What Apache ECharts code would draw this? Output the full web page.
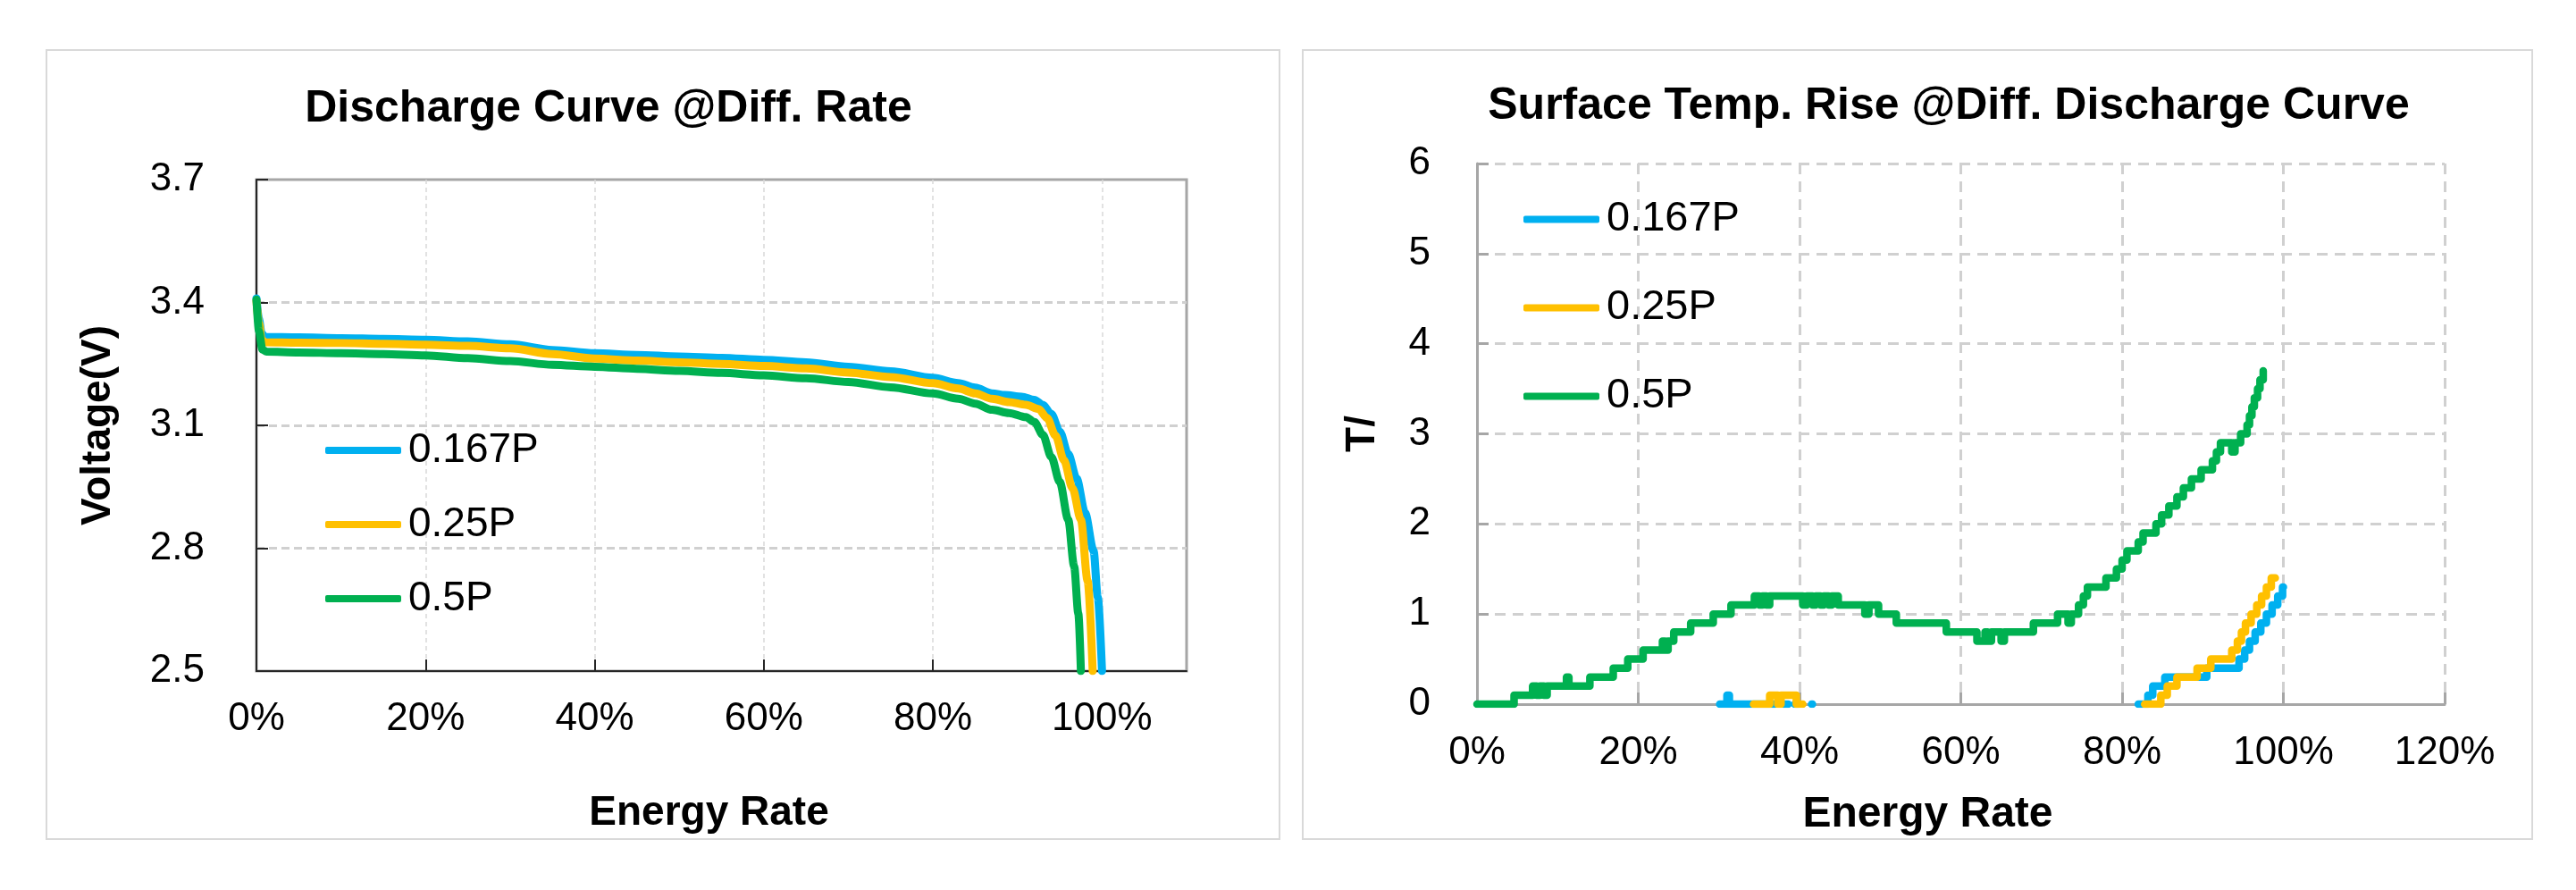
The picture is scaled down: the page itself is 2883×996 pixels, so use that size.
<!DOCTYPE html>
<html>
<head>
<meta charset="utf-8">
<script src="https://cdn.jsdelivr.net/npm/echarts@6/dist/echarts.min.js"></script>
<style>
  html, body { margin: 0; padding: 0; background: #ffffff; }
  #main { width: 2883px; height: 996px; }
</style>
</head>
<body>
<div id="main"></div>
<script>
// ---------- Data ----------
const seriesNames = ['0.167P', '0.25P', '0.5P'];
const seriesColors = ['#00B0F0', '#FFC000', '#00B050'];

// Discharge curves: energy rate (%) vs voltage (V)
const dis167X = [0, 0.3, 0.6, 1.0, 5, 10, 15, 20, 25, 30, 35, 40, 45, 50, 55, 60, 65, 70, 75, 80, 83, 85, 87, 88.5, 90.5, 92, 93, 94, 95, 96, 97, 98, 99, 99.5, 100];
const dis167V = [3.41, 3.36, 3.325, 3.316, 3.315, 3.313, 3.311, 3.309, 3.305, 3.298, 3.284, 3.276, 3.272, 3.268, 3.265, 3.26, 3.254, 3.243, 3.232, 3.216, 3.203, 3.192, 3.178, 3.174, 3.17, 3.162, 3.15, 3.128, 3.085, 3.03, 2.97, 2.886, 2.794, 2.68, 2.5];

const dis25X = [0, 0.3, 0.6, 1.0, 5, 10, 15, 20, 25, 30, 35, 40, 45, 50, 55, 60, 65, 70, 75, 80, 83, 85, 87, 89, 91, 92.5, 93.5, 94.5, 95.5, 96.5, 97.5, 98.3, 98.9];
const dis25V = [3.404, 3.35, 3.31, 3.303, 3.302, 3.301, 3.299, 3.297, 3.294, 3.288, 3.274, 3.263, 3.258, 3.254, 3.25, 3.245, 3.239, 3.229, 3.218, 3.203, 3.19, 3.178, 3.165, 3.157, 3.15, 3.14, 3.118, 3.075, 3.015, 2.947, 2.87, 2.72, 2.5];

const dis5X = [0, 0.3, 0.7, 1.2, 5, 10, 15, 20, 25, 30, 35, 40, 45, 50, 55, 60, 65, 70, 75, 80, 83, 85, 87, 89, 91, 92, 93, 94, 95, 96, 96.7, 97.2, 97.5];
const dis5V = [3.407, 3.33, 3.285, 3.28, 3.278, 3.276, 3.274, 3.271, 3.264, 3.257, 3.248, 3.243, 3.238, 3.233, 3.228, 3.222, 3.215, 3.206, 3.193, 3.178, 3.165, 3.153, 3.138, 3.13, 3.12, 3.108, 3.077, 3.023, 2.962, 2.87, 2.756, 2.64, 2.5];

// Surface temperature rise: energy rate (%) vs temp rise (null = gap)
const tmp167X = [30.1, 31.0, 31.3, 37.0, null, 38.0, 38.6, null, 39.4, 39.8, null, 41.5, 41.6, null,
  82.0, 83.2, 83.8, 85.3, 90.5, 94.5, 95.2, 95.8, 96.5, 97.2, 97.9, 98.6, 99.3, 99.9, 100];
const tmp167Y = [0, 0.1, 0, 0, null, 0, 0, null, 0, 0, null, 0, 0, null,
  0, 0.1, 0.2, 0.3, 0.4, 0.5, 0.6, 0.7, 0.8, 0.9, 1.0, 1.1, 1.2, 1.3, 1.3];

const tmp25X = [34.3, 36.3, 37.3, 37.7, 39.6, 40.4, null,
  82.8, 84.8, 85.6, 86.8, 89.3, 91.0, 93.6, 94.3, 94.8, 95.3, 96.0, 96.7, 97.3, 97.9, 98.5, 99.0];
const tmp25Y = [0, 0.1, 0, 0.1, 0, 0, null,
  0, 0.1, 0.2, 0.3, 0.4, 0.5, 0.6, 0.7, 0.8, 0.9, 1.0, 1.1, 1.2, 1.3, 1.4, 1.4];

const tmp5X = [0, 4.6, 6.9, 7.4, 7.8, 8.3, 8.7, 11.1, 11.4, 14.0, 16.9, 18.7, 20.6, 23.0, 23.3, 23.7, 24.4, 26.5, 29.3, 31.5,
  34.4, 35.0, 35.4, 35.9, 36.3, 40.4, 40.9, 41.6, 42.0, 42.6, 43.0, 43.6, 44.0, 44.8, 48.1, 48.6, 49.8, 52.0, 58.2, 62.0,
  63.0, 63.3, 63.8, 65.0, 65.4, 69.0, 72.0, 73.3, 73.7, 74.6, 75.2, 75.7, 78.0, 79.3, 80.0, 80.6, 82.0, 82.6, 84.2, 84.9,
  85.8, 86.8, 87.6, 88.6, 89.8, 91.2, 91.7, 92.2, 93.6, 94.0, 94.7, 95.5, 95.8, 96.1, 96.4, 96.8, 97.1, 97.5];
const tmp5Y = [0, 0.1, 0.2, 0.1, 0.2, 0.1, 0.2, 0.3, 0.2, 0.3, 0.4, 0.5, 0.6, 0.7, 0.6, 0.7, 0.8, 0.9, 1.0, 1.1,
  1.2, 1.1, 1.2, 1.1, 1.2, 1.1, 1.2, 1.1, 1.2, 1.1, 1.2, 1.1, 1.2, 1.1, 1.0, 1.1, 1.0, 0.9, 0.8, 0.7,
  0.8, 0.7, 0.8, 0.7, 0.8, 0.9, 1.0, 0.9, 1.0, 1.1, 1.2, 1.3, 1.4, 1.5, 1.6, 1.7, 1.8, 1.9, 2.0, 2.1,
  2.2, 2.3, 2.4, 2.5, 2.6, 2.7, 2.8, 2.9, 2.8, 2.9, 3.0, 3.1, 3.2, 3.3, 3.4, 3.5, 3.6, 3.7];

// Axis ranges / ticks
const leftXRange = [0, 110, 20];
const leftYRange = [2.5, 3.7, 0.3];
const rightXRange = [0, 120, 20];
const rightYRange = [0, 6, 1];

// ---------- Helpers ----------
function zip(xs, ys) {
  return xs.map((x, i) => (x === null || ys[i] === null) ? [null, null] : [x, ys[i]]);
}
const FONT = 'Liberation Sans, Arial, Helvetica, sans-serif';

const chart = echarts.init(document.getElementById('main'), null, { renderer: 'canvas' });

const disData = [zip(dis167X, dis167V), zip(dis25X, dis25V), zip(dis5X, dis5V)];
const tmpData = [zip(tmp167X, tmp167Y), zip(tmp25X, tmp25Y), zip(tmp5X, tmp5Y)];

const series = [];
seriesNames.forEach((n, i) => {
  series.push({
    name: n, type: 'line', xAxisIndex: 0, yAxisIndex: 0,
    data: disData[i], showSymbol: false, symbol: 'none',
    smooth: 0.3, smoothMonotone: 'x',
    lineStyle: { color: seriesColors[i], width: 9, cap: 'round', join: 'round' },
    itemStyle: { color: seriesColors[i] },
    animation: false
  });
});
seriesNames.forEach((n, i) => {
  series.push({
    name: n, type: 'line', xAxisIndex: 1, yAxisIndex: 1,
    data: tmpData[i], showSymbol: false, symbol: 'none',
    step: 'end', connectNulls: false,
    lineStyle: { color: seriesColors[i], width: 8.5, cap: 'round', join: 'round' },
    itemStyle: { color: seriesColors[i] },
    animation: false
  });
});

const legendBase = {
  orient: 'vertical', icon: 'roundRect', itemWidth: 85, itemHeight: 8,
  padding: 0, data: seriesNames, selectedMode: false,
  textStyle: { fontFamily: FONT, fontSize: 46, color: '#000', padding: [0, 0, 0, 3] }
};

const option = {
  backgroundColor: '#ffffff',
  animation: false,
  textStyle: { fontFamily: FONT },
  title: [
    { text: 'Discharge Curve @Diff. Rate', left: 681, top: 97, textAlign: 'center', padding: 0,
      textStyle: { fontFamily: FONT, fontSize: 50, fontWeight: 'bold', color: '#000' } },
    { text: 'Surface Temp. Rise @Diff. Discharge Curve', left: 2181, top: 94, textAlign: 'center', padding: 0,
      textStyle: { fontFamily: FONT, fontSize: 50, fontWeight: 'bold', color: '#000' } }
  ],
  legend: [
    Object.assign({}, legendBase, { left: 364, top: 481, itemGap: 37 }),
    Object.assign({}, legendBase, { left: 1705, top: 222, itemGap: 52,
      textStyle: Object.assign({}, legendBase.textStyle, { fontSize: 47 }) })
  ],
  graphic: [
    { type: 'rect', shape: { x: 52, y: 56, width: 1380, height: 883 }, silent: true, z: -10,
      style: { fill: 'none', stroke: '#D9D9D9', lineWidth: 2 } },
    { type: 'rect', shape: { x: 1458, y: 56, width: 1376, height: 883 }, silent: true, z: -10,
      style: { fill: 'none', stroke: '#D9D9D9', lineWidth: 2 } }
  ],
  grid: [
    { left: 287, right: 2883 - 1328, top: 201, bottom: 996 - 751, containLabel: false,
      show: true, borderColor: '#A6A6A6', borderWidth: 3, backgroundColor: 'transparent' },
    { left: 1653, right: 2883 - 2736, top: 183, bottom: 996 - 788, containLabel: false, show: false }
  ],
  xAxis: [
    { type: 'value', gridIndex: 0, min: leftXRange[0], max: leftXRange[1], interval: leftXRange[2],
      name: 'Energy Rate', nameLocation: 'middle', nameGap: 136,
      nameTextStyle: { fontFamily: FONT, fontSize: 46, fontWeight: 'bold', color: '#000', padding: [0, 28, 0, 0] },
      axisLine: { show: true, onZero: false, lineStyle: { color: '#262626', width: 2 } },
      axisTick: { show: true, inside: true, length: 13, lineStyle: { color: '#262626', width: 2 } },
      axisLabel: { fontFamily: FONT, fontSize: 44, color: '#000', margin: 32, showMaxLabel: false,
        formatter: v => v + '%' },
      splitLine: { show: true, showMinLine: false, showMaxLine: false,
        lineStyle: { color: '#D9D9D9', width: 1.5, type: [5, 4] } }
    },
    { type: 'value', gridIndex: 1, min: rightXRange[0], max: rightXRange[1], interval: rightXRange[2],
      name: 'Energy Rate', nameLocation: 'middle', nameGap: 100,
      nameTextStyle: { fontFamily: FONT, fontSize: 48, fontWeight: 'bold', color: '#000', padding: [0, 74, 0, 0] },
      axisLine: { show: true, onZero: false, lineStyle: { color: '#A6A6A6', width: 3 } },
      axisTick: { show: true, inside: true, length: 13, lineStyle: { color: '#A6A6A6', width: 3 } },
      axisLabel: { fontFamily: FONT, fontSize: 44, color: '#000', margin: 33, formatter: v => v + '%' },
      splitLine: { show: true, showMinLine: false,
        lineStyle: { color: '#D0D0D0', width: 3, type: [12, 8] } }
    }
  ],
  yAxis: [
    { type: 'value', gridIndex: 0, min: leftYRange[0], max: leftYRange[1], interval: leftYRange[2],
      name: 'Voltage(V)', nameLocation: 'middle', nameGap: 154, nameRotate: 90,
      nameTextStyle: { fontFamily: FONT, fontSize: 46, fontWeight: 'bold', color: '#000' },
      axisLine: { show: true, onZero: false, lineStyle: { color: '#262626', width: 2 } },
      axisTick: { show: true, inside: true, length: 13, lineStyle: { color: '#262626', width: 2 } },
      axisLabel: { fontFamily: FONT, fontSize: 44, color: '#000', margin: 58,
        formatter: v => v.toFixed(1) },
      splitLine: { show: true, showMinLine: false, showMaxLine: false,
        lineStyle: { color: '#D0D0D0', width: 3, type: [9, 5] } }
    },
    { type: 'value', gridIndex: 1, min: rightYRange[0], max: rightYRange[1], interval: rightYRange[2],
      name: 'T/', nameLocation: 'middle', nameGap: 105, nameRotate: 90,
      nameTextStyle: { fontFamily: FONT, fontSize: 46, fontWeight: 'bold', color: '#000' },
      axisLine: { show: true, onZero: false, lineStyle: { color: '#A6A6A6', width: 3 } },
      axisTick: { show: true, inside: true, length: 13, lineStyle: { color: '#A6A6A6', width: 3 } },
      axisLabel: { fontFamily: FONT, fontSize: 44, color: '#000', margin: 52 },
      splitLine: { show: true, showMinLine: false,
        lineStyle: { color: '#D0D0D0', width: 3, type: [12, 8] } }
    }
  ],
  series: series
};

chart.setOption(option);
</script>
</body>
</html>
